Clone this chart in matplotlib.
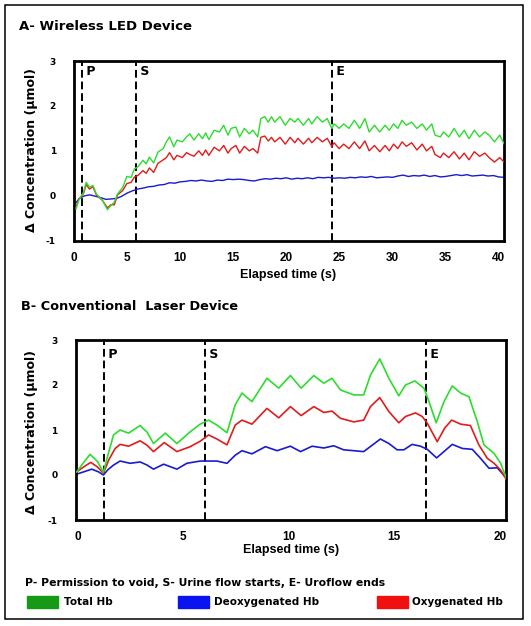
import matplotlib.pyplot as plt
from matplotlib.patches import Rectangle

# ---- panel A: wireless LED device (time in s, concentration in umol)
ta = [0.2, 0.45, 0.9, 1.15, 1.46, 1.78, 2.1, 2.67, 3.15, 3.47, 3.8, 4.1, 4.6, 4.97,
      5.38, 5.7, 6.0, 6.5, 6.8, 7.1, 7.5, 7.9, 8.4, 8.7, 9.0, 9.4, 9.7, 10.2, 10.6,
      10.9, 11.3, 11.75, 12.1, 12.4, 12.7, 13.2, 13.7, 14.1, 14.5, 14.8, 15.25, 15.6,
      16.05, 16.5, 16.85, 17.3, 17.6, 17.96, 18.3, 18.6, 18.9, 19.4, 19.9, 20.35, 20.8,
      21.1, 21.6, 22.1, 22.4, 22.9, 23.4, 23.85, 24.27, 24.5, 24.97, 25.4, 25.9, 26.4,
      26.9, 27.4, 27.8, 28.3, 28.8, 29.3, 29.7, 30.1, 30.5, 30.9, 31.3, 31.8, 32.3,
      32.8, 33.2, 33.7, 34.0, 34.5, 34.8, 35.3, 35.8, 36.3, 36.75, 37.2, 37.7, 38.2,
      38.7, 39.1, 39.6, 40.1, 40.5]
a_total = [-0.29, -0.10, 0.08, 0.30, 0.19, 0.23, 0.04, -0.10, -0.31, -0.22, -0.14, 0.04,
           0.19, 0.43, 0.41, 0.60, 0.64, 0.79, 0.71, 0.86, 0.73, 0.97, 1.05, 1.20, 1.31,
           1.09, 1.24, 1.20, 1.31, 1.38, 1.24, 1.38, 1.27, 1.40, 1.25, 1.46, 1.42, 1.57,
           1.35, 1.50, 1.53, 1.31, 1.50, 1.38, 1.46, 1.31, 1.72, 1.76, 1.64, 1.76, 1.64,
           1.76, 1.57, 1.72, 1.64, 1.72, 1.57, 1.72, 1.60, 1.76, 1.64, 1.72, 1.50, 1.60,
           1.50, 1.60, 1.50, 1.68, 1.50, 1.72, 1.42, 1.57, 1.42, 1.57, 1.46, 1.60, 1.50,
           1.68, 1.57, 1.64, 1.50, 1.60, 1.46, 1.60, 1.35, 1.31, 1.42, 1.31, 1.50, 1.31,
           1.46, 1.27, 1.46, 1.31, 1.42, 1.35, 1.20, 1.35, 1.16]
a_oxy = [-0.25, -0.08, 0.05, 0.25, 0.15, 0.20, 0.02, -0.10, -0.27, -0.20, -0.20, 0.02,
         0.12, 0.27, 0.30, 0.42, 0.45, 0.56, 0.50, 0.62, 0.52, 0.72, 0.80, 0.85, 0.96,
         0.80, 0.90, 0.85, 0.96, 0.92, 0.88, 1.00, 0.90, 1.02, 0.90, 1.08, 1.00, 1.12,
         0.95, 1.05, 1.12, 0.95, 1.10, 1.00, 1.05, 0.95, 1.30, 1.33, 1.22, 1.30, 1.20,
         1.30, 1.15, 1.30, 1.18, 1.28, 1.15, 1.28, 1.18, 1.30, 1.20, 1.28, 1.10, 1.18,
         1.05, 1.15, 1.05, 1.20, 1.05, 1.22, 1.00, 1.12, 0.98, 1.12, 1.00, 1.15, 1.05,
         1.20, 1.10, 1.18, 1.02, 1.15, 1.00, 1.10, 0.92, 0.85, 0.95, 0.85, 0.98, 0.82,
         0.95, 0.80, 0.98, 0.88, 0.95, 0.85, 0.75, 0.85, 0.75]
ta_deoxy = [0.2, 0.5, 1.0, 1.5, 2.0, 2.5, 3.0, 3.5, 4.0, 4.5, 5.0, 5.5, 6.0, 6.5, 7.0,
            7.5, 8.0, 8.5, 9.0, 9.5, 10.0, 10.5, 11.0, 11.5, 12.0, 12.5, 13.0, 13.5,
            14.0, 14.5, 15.0, 15.5, 16.0, 16.5, 17.0, 17.5, 18.0, 18.5, 19.0, 19.5,
            20.0, 20.5, 21.0, 21.5, 22.0, 22.5, 23.0, 23.5, 24.0, 24.5, 25.0, 25.5,
            26.0, 26.5, 27.0, 27.5, 28.0, 28.5, 29.0, 29.5, 30.0, 30.5, 31.0, 31.5,
            32.0, 32.5, 33.0, 33.5, 34.0, 34.5, 35.0, 35.5, 36.0, 36.5, 37.0, 37.5,
            38.0, 38.5, 39.0, 39.5, 40.0, 40.5]
a_deoxy = [-0.15, -0.06, 0.00, 0.02, -0.01, -0.04, -0.08, -0.07, -0.06, -0.01, 0.06,
           0.11, 0.15, 0.17, 0.20, 0.21, 0.24, 0.25, 0.29, 0.28, 0.31, 0.32, 0.34, 0.33,
           0.35, 0.33, 0.32, 0.35, 0.34, 0.37, 0.36, 0.37, 0.36, 0.34, 0.33, 0.36, 0.38,
           0.37, 0.39, 0.38, 0.40, 0.37, 0.39, 0.38, 0.40, 0.38, 0.41, 0.40, 0.41, 0.39,
           0.40, 0.39, 0.41, 0.40, 0.42, 0.41, 0.43, 0.40, 0.41, 0.42, 0.41, 0.44, 0.46,
           0.43, 0.45, 0.44, 0.46, 0.43, 0.45, 0.42, 0.43, 0.45, 0.47, 0.45, 0.47, 0.44,
           0.45, 0.46, 0.44, 0.45, 0.42, 0.41]
a_events = [0.8, 5.8, 24.3]

# ---- panel B: conventional laser device
tb_total = [-0.03, 0.3, 0.6, 0.95, 1.23, 1.45, 1.71, 2.02, 2.42, 2.97, 3.3, 3.6, 4.16,
            4.71, 5.34, 5.81, 6.21, 6.6, 7.08, 7.47, 7.79, 8.26, 8.97, 9.53, 10.08,
            10.59, 11.19, 11.66, 12.05, 12.45, 13.08, 13.55, 13.87, 14.31, 14.74, 15.21,
            15.53, 15.97, 16.4, 16.64, 16.98, 17.35, 17.74, 18.14, 18.53, 18.93, 19.24,
            19.72, 20.03, 20.3]
b_total = [0.07, 0.28, 0.46, 0.30, 0.06, 0.45, 0.89, 1.00, 0.93, 1.10, 0.95, 0.70, 0.93,
           0.70, 0.96, 1.13, 1.22, 1.11, 0.94, 1.56, 1.82, 1.63, 2.15, 1.93, 2.21, 1.93,
           2.21, 2.04, 2.15, 1.89, 1.78, 1.78, 2.22, 2.58, 2.15, 1.76, 2.00, 2.09, 1.93,
           1.63, 1.16, 1.63, 1.98, 1.82, 1.74, 1.18, 0.67, 0.48, 0.26, -0.07]
tb_oxy = [-0.03, 0.3, 0.63, 0.95, 1.23, 1.5, 1.79, 2.02, 2.42, 2.97, 3.3, 3.6, 4.11,
          4.71, 5.34, 5.81, 6.21, 6.6, 7.08, 7.47, 7.79, 8.26, 8.97, 9.53, 10.08, 10.59,
          11.19, 11.66, 12.05, 12.45, 13.08, 13.55, 13.87, 14.31, 14.74, 15.21, 15.53,
          16.0, 16.32, 16.56, 17.03, 17.38, 17.71, 18.14, 18.6, 19.0, 19.4, 19.72, 20.03,
          20.3]
b_oxy = [0.07, 0.18, 0.28, 0.18, 0.04, 0.35, 0.59, 0.68, 0.64, 0.76, 0.66, 0.52, 0.72,
         0.52, 0.63, 0.75, 0.89, 0.80, 0.67, 1.11, 1.22, 1.13, 1.48, 1.27, 1.52, 1.32,
         1.52, 1.39, 1.42, 1.26, 1.18, 1.22, 1.52, 1.72, 1.41, 1.16, 1.30, 1.38, 1.30,
         1.15, 0.74, 1.04, 1.22, 1.13, 1.10, 0.67, 0.37, 0.26, 0.11, -0.10]
tb_deoxy = [-0.03, 0.3, 0.68, 1.0, 1.23, 1.45, 1.71, 2.02, 2.5, 2.97, 3.3, 3.6, 4.08,
            4.71, 5.18, 5.81, 6.6, 7.08, 7.47, 7.79, 8.26, 8.9, 9.45, 10.08, 10.56,
            11.11, 11.66, 12.13, 12.6, 13.55, 14.34, 14.74, 15.13, 15.45, 15.84, 16.24,
            16.56, 17.0, 17.74, 18.22, 18.69, 19.08, 19.48, 19.87, 20.3]
b_deoxy = [0.02, 0.07, 0.13, 0.07, 0.00, 0.12, 0.22, 0.31, 0.26, 0.29, 0.22, 0.13, 0.24,
           0.13, 0.26, 0.31, 0.31, 0.26, 0.44, 0.54, 0.47, 0.63, 0.54, 0.64, 0.52, 0.64,
           0.60, 0.65, 0.56, 0.52, 0.80, 0.70, 0.56, 0.56, 0.68, 0.64, 0.57, 0.38, 0.68,
           0.59, 0.57, 0.37, 0.15, 0.16, -0.07]
b_events = [1.28, 6.04, 16.48]

event_names = ['P', 'S', 'E']
yticks = [-1, 0, 1, 2, 3]

GREEN = '#2ddc2d'
RED = '#e01c1c'
BLUE = '#1a1ad0'
W, H = 531, 626
FONT = 'DejaVu Sans'
XFONT = 'Liberation Sans'

plt.rcParams['axes.unicode_minus'] = False
fig = plt.figure(figsize=(W / 100, H / 100), dpi=100)


def box(l, t, r, b):
    # pixel box (from top-left) -> figure fraction rect
    return [l / W, 1 - b / H, (r - l) / W, (b - t) / H]


def ptext(x, y, s, **kw):
    kw.setdefault('fontweight', 'bold')
    kw.setdefault('family', FONT)
    fig.text(x / W, 1 - y / H, s, **kw)


def panel(rect, xlim, xticks, events, label_y):
    ax = fig.add_axes(rect)
    ax.set_xlim(*xlim)
    ax.set_ylim(-1, 3)
    ax.set_xticks(xticks)
    ax.set_yticks(yticks)
    ax.tick_params(length=0)
    ax.tick_params(axis='x', pad=8, labelsize=8.5)
    ax.tick_params(axis='y', pad=13, labelsize=6.5)
    for lab in ax.get_xticklabels():
        lab.set_fontweight('bold')
        lab.set_family(XFONT)
    for lab in ax.get_yticklabels():
        lab.set_fontweight('bold')
        lab.set_family(FONT)
    for s in ax.spines.values():
        s.set_linewidth(2)
    for x, name in zip(events, event_names):
        ax.axvline(x, color='black', lw=1.4, ls=(0, (4, 2)), zorder=1)
        ax.text(x, label_y, ' ' + name, transform=ax.get_xaxis_transform(),
                fontsize=9, fontweight='bold', family=FONT, va='center', ha='left')
    return ax


# outer frame
fig.patches.append(Rectangle((5 / W, 1 - 619 / H), 518 / W, 614 / H,
                             transform=fig.transFigure, fill=False,
                             edgecolor='black', lw=1.1))

# panel A
axa = panel(box(74, 61, 504, 240.7), (0, 40.5), range(0, 41, 5), a_events, 0.94)
axa.plot(ta_deoxy, a_deoxy, color=BLUE, lw=1.0, zorder=2)
axa.plot(ta, a_oxy, color=RED, lw=1.0, zorder=3)
axa.plot(ta, a_total, color=GREEN, lw=1.0, zorder=4)
ptext(19, 26, 'A- Wireless LED Device', fontsize=9.5, va='center')
ptext(288, 275, 'Elapsed time (s)', fontsize=9, family=XFONT, ha='center', va='center')
ptext(32, 150, 'Δ Concentration (µmol)', fontsize=9, ha='center', va='center',
      rotation=90)

# panel B
axb = panel(box(75.7, 340, 505.7, 520), (-0.08, 20.27), range(0, 21, 5), b_events, 0.92)
axb.plot(tb_deoxy, b_deoxy, color=BLUE, lw=1.2, zorder=2, solid_joinstyle='round')
axb.plot(tb_oxy, b_oxy, color=RED, lw=1.2, zorder=3, solid_joinstyle='round')
axb.plot(tb_total, b_total, color=GREEN, lw=1.2, zorder=4, solid_joinstyle='round')
ptext(21, 306, 'B- Conventional  Laser Device', fontsize=9.3, va='center')
ptext(291, 550, 'Elapsed time (s)', fontsize=9, family=XFONT, ha='center', va='center')
ptext(32, 432, 'Δ Concentration (µmol)', fontsize=9, ha='center', va='center',
      rotation=90)

# footnote and legend
ptext(25, 583, 'P- Permission to void, S- Urine flow starts, E- Uroflow ends',
      fontsize=7.8, va='center')
legend_items = [('Total Hb', '#169a16', 27, 64), ('Deoxygenated Hb', '#0a14f0', 178, 214),
                ('Oxygenated Hb', '#f01010', 376.5, 412.5)]
for name, col, px, tx in legend_items:
    fig.patches.append(Rectangle((px / W, 1 - 608 / H), 31 / W, 12 / H,
                                 transform=fig.transFigure, color=col))
    ptext(tx, 602, name, fontsize=7.5, va='center')

fig.savefig('out.png', dpi=100)
